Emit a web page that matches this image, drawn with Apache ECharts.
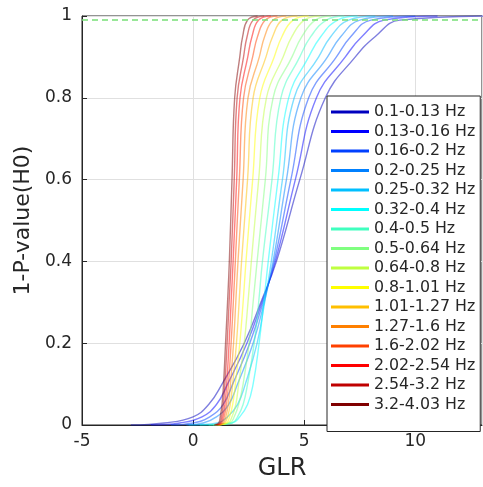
<!DOCTYPE html>
<html>
<head>
<meta charset="utf-8">
<script src="https://cdn.jsdelivr.net/npm/echarts@6/dist/echarts.min.js"></script>
<style>
html,body{margin:0;padding:0;background:#fff;}
#chart{width:483px;height:487px;}
</style>
</head>
<body>
<div id="chart"></div>
<script>
// Legend labels (frequency bands)
const bandLabels = ['0.1-0.13 Hz','0.13-0.16 Hz','0.16-0.2 Hz','0.2-0.25 Hz','0.25-0.32 Hz','0.32-0.4 Hz','0.4-0.5 Hz','0.5-0.64 Hz','0.64-0.8 Hz','0.8-1.01 Hz','1.01-1.27 Hz','1.27-1.6 Hz','1.6-2.02 Hz','2.02-2.54 Hz','2.54-3.2 Hz','3.2-4.03 Hz'];
const bandColors = ['#0000bf','#0000ff','#0040ff','#0080ff','#00bfff','#00ffff','#40ffbf','#80ff80','#bfff40','#ffff00','#ffbf00','#ff8000','#ff4000','#ff0000','#bf0000','#800000'];
// CDF levels (1-P-value) at which GLR values were read
const cdfLevels = [0, 0.005, 0.02, 0.05, 0.1, 0.2, 0.3, 0.4, 0.6, 0.8, 0.9, 0.95, 0.99, 1];
// GLR values for each band at those levels
const glr0  = [-2.8, -1.3, 0.0, 0.7, 1.3, 2.3, 3.05, 3.75, 4.8, 5.95, 7.3, 8.2, 9.3, 13.5];
const glr1  = [-1.9, -0.6, 0.4, 1.05, 1.55, 2.42, 3.1, 3.7, 4.6, 5.55, 6.85, 7.6, 8.6, 11.0];
const glr2  = [-1.0, 0.0, 0.75, 1.35, 1.78, 2.55, 3.15, 3.65, 4.4, 5.2, 6.45, 7.1, 8.0, 10.0];
const glr3  = [-0.3, 0.45, 1.05, 1.6, 2.0, 2.7, 3.2, 3.6, 4.2, 4.85, 6.05, 6.65, 7.5, 9.0];
const glr4  = [-0.2, 1.1, 1.55, 2.0, 2.35, 2.88, 3.22, 3.52, 4.02, 4.55, 5.65, 6.2, 7.0, 8.2];
const glr5  = [0.3, 1.75, 2.1, 2.45, 2.7, 2.97, 3.18, 3.38, 3.82, 4.3, 5.2, 5.75, 6.5, 7.4];
const glr6  = [0.7, 1.75, 2.0, 2.25, 2.45, 2.75, 2.95, 3.12, 3.55, 3.95, 4.8, 5.3, 6.0, 6.8];
const glr7  = [0.9, 1.65, 1.85, 2.05, 2.25, 2.52, 2.7, 2.88, 3.25, 3.6, 4.45, 4.9, 5.5, 6.2];
const glr8  = [1.0, 1.57, 1.75, 1.92, 2.05, 2.3, 2.47, 2.62, 2.95, 3.3, 4.05, 4.45, 5.0, 5.7];
const glr9  = [1.1, 1.5, 1.64, 1.78, 1.9, 2.1, 2.25, 2.38, 2.68, 3.0, 3.65, 4.0, 4.5, 5.2];
const glr10 = [1.15, 1.42, 1.55, 1.67, 1.78, 1.95, 2.07, 2.18, 2.45, 2.7, 3.28, 3.58, 4.0, 4.7];
const glr11 = [1.15, 1.36, 1.47, 1.58, 1.68, 1.82, 1.92, 2.02, 2.25, 2.47, 2.98, 3.22, 3.6, 4.2];
const glr12 = [1.1, 1.3, 1.4, 1.5, 1.59, 1.71, 1.81, 1.9, 2.08, 2.27, 2.68, 2.9, 3.25, 3.8];
const glr13 = [1.05, 1.25, 1.34, 1.43, 1.51, 1.62, 1.71, 1.8, 1.96, 2.11, 2.46, 2.65, 2.95, 3.5];
const glr14 = [1.0, 1.2, 1.28, 1.36, 1.43, 1.53, 1.62, 1.71, 1.85, 1.98, 2.27, 2.43, 2.7, 3.2];
const glr15 = [0.95, 1.15, 1.22, 1.3, 1.37, 1.46, 1.55, 1.63, 1.75, 1.87, 2.1, 2.23, 2.45, 2.9];
const glrCurves = [glr0,glr1,glr2,glr3,glr4,glr5,glr6,glr7,glr8,glr9,glr10,glr11,glr12,glr13,glr14,glr15];
const thresholdLevel = 0.99;
const xTicks = [-5, 0, 5, 10];
const yTicks = [0, 0.2, 0.4, 0.6, 0.8, 1];

function hexToRgba(h, a){
  const r=parseInt(h.slice(1,3),16), g=parseInt(h.slice(3,5),16), b=parseInt(h.slice(5,7),16);
  return 'rgba('+r+','+g+','+b+','+a+')';
}
const FONT = 'DejaVu Sans';
const series = glrCurves.map((xs, i) => ({
  name: bandLabels[i],
  type: 'line',
  data: xs.map((x, k) => [x, cdfLevels[k]]),
  showSymbol: false,
  smooth: 0.45,
  itemStyle: {color: bandColors[i]},
  lineStyle: {color: hexToRgba(bandColors[i], 0.5), width: 1.4},
  emphasis: {disabled: true},
  z: 2
}));
series.push({
  name: 'threshold',
  type: 'line',
  data: [],
  markLine: {
    silent: true,
    symbol: 'none',
    label: {show: false},
    lineStyle: {color: '#77e077', type: [6, 4], width: 1.5},
    data: [{yAxis: thresholdLevel}]
  },
  z: 3
});

const chart = echarts.init(document.getElementById('chart'), null, {renderer: 'canvas'});
chart.setOption({
  animation: false,
  backgroundColor: '#fff',
  grid: {left: 82, top: 16, width: 400, height: 409, show: true, borderColor: '#262626', borderWidth: 1, backgroundColor: 'transparent'},
  xAxis: {
    type: 'value', min: xTicks[0], max: 13, interval: 5,
    name: 'GLR', nameLocation: 'middle', nameGap: 32,
    nameTextStyle: {fontFamily: FONT, fontSize: 24, color: '#262626'},
    axisLine: {show: true, onZero: false, lineStyle: {color: '#262626'}},
    axisTick: {show: true, inside: true, length: 5, lineStyle: {color: '#262626'}},
    axisLabel: {fontFamily: FONT, fontSize: 17, color: '#262626', margin: 8, showMaxLabel: false},
    splitLine: {show: true, lineStyle: {color: '#e0e0e0'}}
  },
  yAxis: {
    type: 'value', min: yTicks[0], max: yTicks[yTicks.length-1], interval: 0.2,
    name: '1-P-value(H0)', nameLocation: 'middle', nameGap: 44,
    nameTextStyle: {fontFamily: FONT, fontSize: 22, color: '#262626'},
    axisLine: {show: true, onZero: false, lineStyle: {color: '#262626'}},
    axisTick: {show: true, inside: true, length: 5, lineStyle: {color: '#262626'}},
    axisLabel: {fontFamily: FONT, fontSize: 17, color: '#262626', margin: 10, formatter: v => String(+v.toFixed(1))},
    splitLine: {show: true, lineStyle: {color: '#e0e0e0'}}
  },
  legend: {
    data: bandLabels,
    orient: 'vertical',
    left: 327, top: 96,
    icon: 'rect',
    itemWidth: 38, itemHeight: 3,
    itemGap: 3.5,
    padding: [8, 5, 19, 4],
    backgroundColor: '#fff',
    borderColor: '#262626', borderWidth: 1,
    borderRadius: 0,
    textStyle: {fontFamily: FONT, fontSize: 15.8, color: '#262626', lineHeight: 16, padding: [0,0,0,0]},
    selectedMode: false
  },
  series: series
});
</script>
</body>
</html>
